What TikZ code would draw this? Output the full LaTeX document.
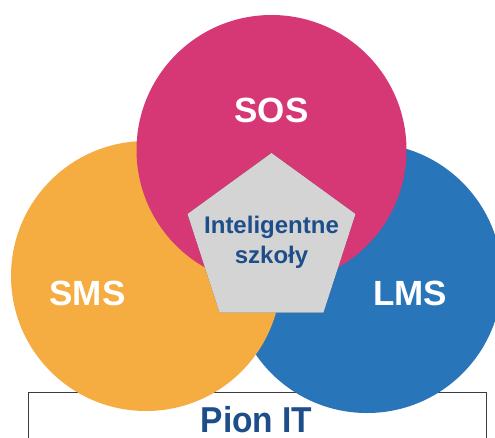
\documentclass[tikz,border=0pt]{standalone}
\usepackage{fontspec}
\setmainfont{Liberation Sans}
\definecolor{sospink}{RGB}{214,56,118}
\definecolor{smsorange}{RGB}{245,173,66}
\definecolor{lmsblue}{RGB}{40,117,186}
\definecolor{pentgray}{RGB}{212,212,212}
\definecolor{textblue}{RGB}{30,78,138}
\definecolor{boxgray}{RGB}{60,60,60}
\begin{document}
\begin{tikzpicture}[x=1pt,y=-1pt,
  venn/.style={circle, minimum size=270pt, inner sep=0pt, draw=none},
  biglabel/.style={text=white, font=\bfseries\fontsize{35}{42}\selectfont, anchor=base},
]
\useasboundingbox (0,0) rectangle (495,437);
\clip (0,0) rectangle (495,437);
\fill[white] (0,0) rectangle (495,437);
% frame
\node[draw=boxgray, line width=1.3pt, minimum width=458pt, minimum height=80pt,
      anchor=north west, inner sep=0pt] (box) at (28,392) {};
% circles
\node[venn, fill=lmsblue] (lms) at (367,278) {};
\node[venn, fill=smsorange] (sms) at (146,276) {};
\node[venn, fill=sospink] (sos) at (271.5,150) {};
% pentagon
\coordinate (p1) at (271.5,153);
\coordinate (p2) at (355.5,214);
\coordinate (p3) at (323.4,312.7);
\coordinate (p4) at (219.6,312.7);
\coordinate (p5) at (187.5,214);
\foreach \d/\o in {3.5/0.12, 2.5/0.18, 1.5/0.25}{
  \fill[black, opacity=\o, shift={(\d,\d)}] (p1) -- (p2) -- (p3) -- (p4) -- (p5) -- cycle;
}
\fill[pentgray] (p1) -- (p2) -- (p3) -- (p4) -- (p5) -- cycle;
% labels
\node[biglabel] (soslabel) at (271.5,122) {SOS};
\node[biglabel] (smslabel) at (87.5,305) {SMS};
\node[biglabel] (lmslabel) at (410,305) {LMS};
\node[text=textblue, font=\bfseries\fontsize{24}{30}\selectfont, align=center,
      anchor=base] (smart) at (271.5,263) {Inteligentne\\szkoły};
\node[anchor=base, text=textblue, font=\bfseries\fontsize{36}{44}\selectfont,
      xscale=0.93, inner sep=0pt] (pion) at (256.5,432) {Pion IT};
\end{tikzpicture}
\end{document}
